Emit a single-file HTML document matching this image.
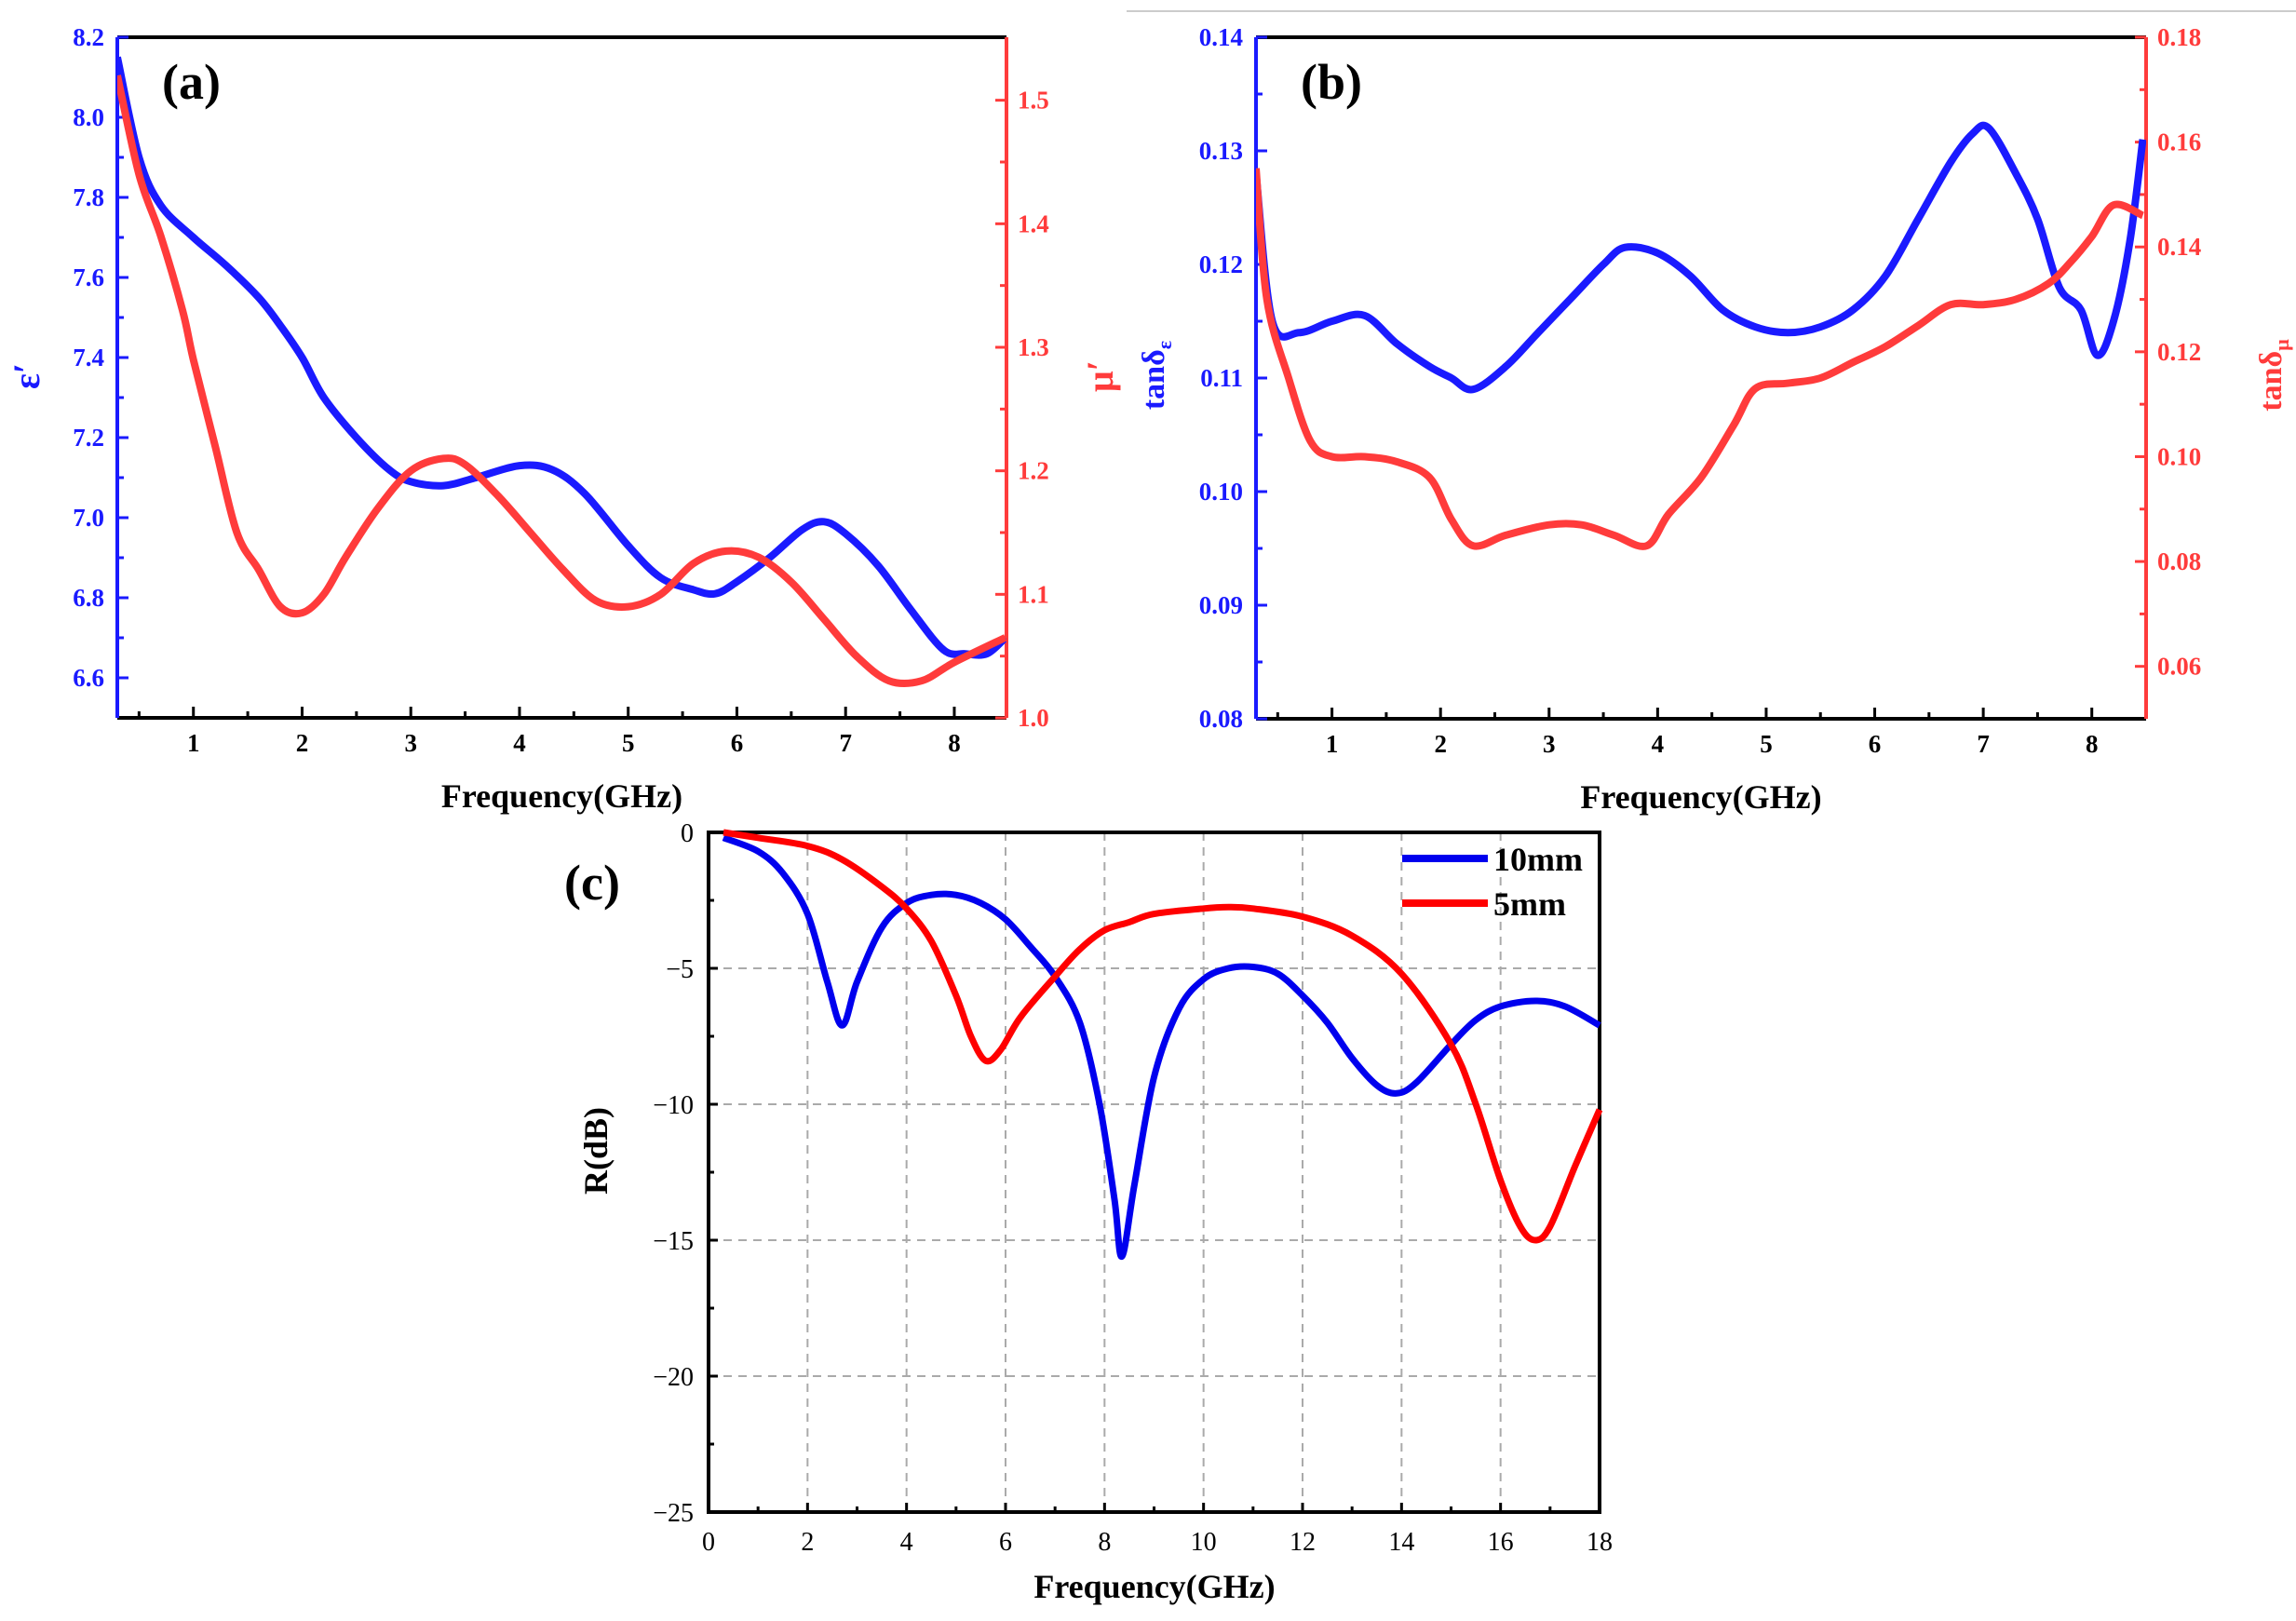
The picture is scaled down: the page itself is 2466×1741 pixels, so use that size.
<!DOCTYPE html>
<html><head><meta charset="utf-8"><style>
html,body{margin:0;padding:0;background:#fff}
svg{display:block}
text{font-family:"Liberation Serif",serif}
</style></head><body>
<svg id="fig" width="2466" height="1741" viewBox="0 0 2466 1741" xmlns="http://www.w3.org/2000/svg">
<rect x="0" y="0" width="2466" height="1741" fill="#fff"/>
<line x1="1210" y1="12" x2="2466" y2="12" stroke="#ccc" stroke-width="2"/>
</svg>
<script>
// ---------- Panel (a) data ----------
const aFreqE=[0.3,0.5,0.7,1.0,1.3,1.6,1.8,2.0,2.2,2.5,2.8,3.0,3.3,3.6,4.0,4.3,4.6,5.0,5.3,5.6,5.8,6.0,6.3,6.6,6.8,7.0,7.3,7.6,7.9,8.1,8.3,8.47];
const aEps=[8.15,7.9,7.78,7.7,7.63,7.55,7.48,7.4,7.3,7.2,7.12,7.09,7.08,7.1,7.13,7.12,7.06,6.93,6.85,6.82,6.81,6.84,6.9,6.97,6.99,6.96,6.88,6.77,6.67,6.66,6.66,6.7];
const aFreqM=[0.3,0.5,0.7,0.9,1.0,1.2,1.4,1.6,1.8,2.0,2.2,2.4,2.7,3.0,3.3,3.5,3.8,4.1,4.4,4.7,5.0,5.3,5.6,5.9,6.2,6.5,6.8,7.1,7.4,7.7,8.0,8.47];
const aMu=[1.52,1.44,1.39,1.33,1.29,1.22,1.15,1.12,1.09,1.085,1.1,1.13,1.17,1.2,1.21,1.205,1.18,1.15,1.12,1.095,1.09,1.1,1.125,1.135,1.13,1.11,1.08,1.05,1.03,1.03,1.045,1.065];
const aXTicks=[1,2,3,4,5,6,7,8];
const aLTicks=[6.6,6.8,7.0,7.2,7.4,7.6,7.8,8.0,8.2];
const aRTicks=[1.0,1.1,1.2,1.3,1.4,1.5];
// ---------- Panel (b) data ----------
const bFreqE=[0.3,0.45,0.7,1.0,1.3,1.6,1.9,2.1,2.3,2.6,2.9,3.2,3.5,3.7,4.0,4.3,4.6,4.9,5.2,5.5,5.8,6.1,6.4,6.7,6.9,7.05,7.3,7.5,7.7,7.9,8.05,8.2,8.35,8.47];
const bTanE=[0.128,0.115,0.114,0.115,0.1155,0.113,0.111,0.11,0.109,0.111,0.114,0.117,0.12,0.1215,0.121,0.119,0.116,0.1145,0.114,0.1145,0.116,0.119,0.124,0.129,0.1315,0.132,0.128,0.124,0.118,0.116,0.112,0.115,0.122,0.131];
const bFreqM=[0.3,0.4,0.6,0.8,1.0,1.3,1.6,1.9,2.1,2.3,2.6,3.0,3.3,3.6,3.9,4.1,4.4,4.7,4.9,5.2,5.5,5.8,6.1,6.4,6.7,7.0,7.3,7.6,7.8,8.0,8.2,8.47];
const bTanM=[0.155,0.13,0.115,0.103,0.1,0.1,0.099,0.096,0.088,0.083,0.085,0.087,0.087,0.085,0.083,0.089,0.096,0.106,0.113,0.114,0.115,0.118,0.121,0.125,0.129,0.129,0.13,0.133,0.137,0.142,0.148,0.146];
const bXTicks=[1,2,3,4,5,6,7,8];
const bLTicks=[0.08,0.09,0.10,0.11,0.12,0.13,0.14];
const bRTicks=[0.06,0.08,0.10,0.12,0.14,0.16,0.18];
// ---------- Panel (c) data ----------
const cFreq10=[0.3,1,1.5,2,2.4,2.7,3,3.5,4,4.5,5,5.5,6,6.5,7,7.5,7.9,8.2,8.35,8.6,9,9.5,10,10.5,11,11.5,12,12.5,13,13.5,13.9,14.3,15,15.5,16,16.7,17.3,18];
const cR10=[-0.2,-0.7,-1.5,-3,-5.5,-7.1,-5.5,-3.5,-2.6,-2.3,-2.3,-2.6,-3.2,-4.2,-5.3,-7,-10,-13.5,-15.6,-13,-9,-6.5,-5.4,-5,-4.95,-5.2,-6,-7,-8.3,-9.3,-9.6,-9.2,-7.8,-6.9,-6.4,-6.2,-6.4,-7.1];
const cFreq5=[0.3,1,2,2.7,3.5,4,4.5,5,5.3,5.6,5.9,6.3,7,7.5,8,8.5,9,10,10.5,11,12,13,14,15,15.5,16,16.4,16.7,17,17.5,18];
const cR5=[0,-0.2,-0.5,-1,-2,-2.8,-4,-6,-7.5,-8.4,-8,-6.8,-5.3,-4.3,-3.6,-3.3,-3,-2.8,-2.75,-2.8,-3.1,-3.8,-5.2,-7.8,-10,-12.8,-14.5,-15,-14.5,-12.3,-10.2];
const cXTicks=[0,2,4,6,8,10,12,14,16,18];
const cYTicks=[0,-5,-10,-15,-20,-25];

const NS="http://www.w3.org/2000/svg";
const svg=document.getElementById('fig');
function mk(tag,attrs,parent){const e=document.createElementNS(NS,tag);for(const k in attrs)e.setAttribute(k,attrs[k]);(parent||svg).appendChild(e);return e;}
function txt(s,attrs,parent){const e=mk('text',attrs,parent);e.textContent=s;return e;}
function lin(a0,a1,p0,p1){return v=>p0+(v-a0)/(a1-a0)*(p1-p0);}
function smooth(xs,ys,sx,sy){
  const P=xs.map((x,i)=>[sx(x),sy(ys[i])]);
  let d='M'+P[0][0].toFixed(1)+','+P[0][1].toFixed(1);
  for(let i=0;i<P.length-1;i++){
    const p0=P[Math.max(0,i-1)],p1=P[i],p2=P[i+1],p3=P[Math.min(P.length-1,i+2)];
    const c1=[p1[0]+(p2[0]-p0[0])/6,p1[1]+(p2[1]-p0[1])/6];
    const c2=[p2[0]-(p3[0]-p1[0])/6,p2[1]-(p3[1]-p1[1])/6];
    d+='C'+c1[0].toFixed(1)+','+c1[1].toFixed(1)+' '+c2[0].toFixed(1)+','+c2[1].toFixed(1)+' '+p2[0].toFixed(1)+','+p2[1].toFixed(1);
  }
  return d;
}
const BLUE='#1a1aff',RED='#ff3b3b';

function dual(o){
  const g=mk('g',{});
  
  
  const sx=lin(o.x0,o.x1,o.L,o.R), syl=lin(o.l0,o.l1,o.B,o.T), syr=lin(o.r0,o.r1,o.B,o.T);
  const top=mk('line',{x1:o.L,y1:o.T,x2:o.R,y2:o.T,stroke:'#000','stroke-width':4},g);
  
  const bot=mk('line',{x1:o.L,y1:o.B,x2:o.R,y2:o.B,stroke:'#000','stroke-width':4},g);
  
  const la=mk('line',{x1:o.L,y1:o.T,x2:o.L,y2:o.B,stroke:BLUE,'stroke-width':4},g);
  
  const ra=mk('line',{x1:o.R,y1:o.T,x2:o.R,y2:o.B,stroke:RED,'stroke-width':4},g);
  
  o.xt.forEach(v=>{
    const X=sx(v);
    mk('line',{x1:X,y1:o.B,x2:X,y2:o.B-12,stroke:'#000','stroke-width':3},g);
    const h=sx(v+0.5); if(h<o.R-3) mk('line',{x1:h,y1:o.B,x2:h,y2:o.B-7,stroke:'#000','stroke-width':3},g);
    const t=txt(String(v),{x:X,y:o.B+36,'text-anchor':'middle','font-size':27,'font-weight':'bold',fill:'#000'},g);
    
  });
  { const h=sx(o.xt[0]-0.5); if(h>o.L+3) mk('line',{x1:h,y1:o.B,x2:h,y2:o.B-7,stroke:'#000','stroke-width':3},g); }
  o.lt.forEach((v,i)=>{
    const Y=syl(v);
    mk('line',{x1:o.L,y1:Y,x2:o.L+12,y2:Y,stroke:BLUE,'stroke-width':3},g);
    if(i<o.lt.length-1){const m=syl(v+(o.lt[1]-o.lt[0])/2);mk('line',{x1:o.L,y1:m,x2:o.L+7,y2:m,stroke:BLUE,'stroke-width':3},g);}
    const t=txt(v.toFixed(o.ld),{x:o.L-14,y:Y+9,'text-anchor':'end','font-size':27,'font-weight':'bold',fill:BLUE},g);
    
  });
  o.rt.forEach((v,i)=>{
    const Y=syr(v);
    mk('line',{x1:o.R,y1:Y,x2:o.R-12,y2:Y,stroke:RED,'stroke-width':3},g);
    const m=syr(v+(o.rt[1]-o.rt[0])/2); if(m>o.T+3) mk('line',{x1:o.R,y1:m,x2:o.R-7,y2:m,stroke:RED,'stroke-width':3},g);
    const m2=syr(v-(o.rt[1]-o.rt[0])/2); if(i==0&&m2<o.B-3) mk('line',{x1:o.R,y1:m2,x2:o.R-7,y2:m2,stroke:RED,'stroke-width':3},g);
    const t=txt(v.toFixed(o.rd),{x:o.R+12,y:Y+9,'text-anchor':'start','font-size':27,'font-weight':'bold',fill:RED},g);
    
  });
  const clipId='clip'+o.name;
  const cp=mk('clipPath',{id:clipId},g); mk('rect',{x:o.L,y:o.T-10,width:o.R-o.L,height:o.B-o.T+10},cp);
  const p1=mk('path',{d:smooth(o.bx,o.by,sx,syl),fill:'none',stroke:BLUE,'stroke-width':8,'stroke-linejoin':'round','clip-path':'url(#'+clipId+')'},g);
  
  const p2=mk('path',{d:smooth(o.rx,o.ry,sx,syr),fill:'none',stroke:RED,'stroke-width':8,'stroke-linejoin':'round','clip-path':'url(#'+clipId+')'},g);
  
  const xt=txt('Frequency(GHz)',{x:(o.L+o.R)/2,y:o.B+96,'text-anchor':'middle','font-size':36,'font-weight':'bold',fill:'#000'},g);
  
  const pl=txt(o.label,{x:o.L+48,y:o.T+66,'font-size':54,'font-weight':'bold',fill:'#000'},g);
  
  return g;
}

dual({name:'panel-a',L:126,R:1081,T:40,B:771,x0:0.3,x1:8.48,l0:6.5,l1:8.2,r0:1.0,r1:1.551,
  xt:aXTicks,lt:aLTicks,rt:aRTicks,ld:1,rd:1,bx:aFreqE,by:aEps,rx:aFreqM,ry:aMu,label:'(a)'});
{ const t=txt('ε′',{x:0,y:0,'font-size':40,'font-weight':'bold',fill:BLUE,transform:'translate(42,404) rotate(-90)','text-anchor':'middle'});
  
  const u=txt('μ′',{x:0,y:0,'font-size':40,'font-weight':'bold',fill:RED,transform:'translate(1195,404) rotate(-90)','text-anchor':'middle'});
   }

dual({name:'panel-b',L:1349,R:2305,T:40,B:772,x0:0.3,x1:8.5,l0:0.08,l1:0.14,r0:0.05,r1:0.18,
  xt:bXTicks,lt:bLTicks,rt:bRTicks,ld:2,rd:2,bx:bFreqE,by:bTanE,rx:bFreqM,ry:bTanM,label:'(b)'});
{ const t=mk('text',{'font-size':34,'font-weight':'bold',fill:BLUE,transform:'translate(1250,403) rotate(-90)','text-anchor':'middle'});
  t.innerHTML='tanδ<tspan font-size="22" dy="8">ε</tspan>';
  
  const u=mk('text',{'font-size':34,'font-weight':'bold',fill:RED,transform:'translate(2450,403) rotate(-90)','text-anchor':'middle'});
  u.innerHTML='tanδ<tspan font-size="22" dy="8">μ</tspan>';
   }

// ---------- Panel (c) ----------
(function(){
  const L=761,R=1718,T=894,B=1624;
  const g=mk('g',{});
  
  
  const sx=lin(0,18,L,R), sy=lin(-25,0,B,T);
  cXTicks.forEach(v=>{
    const X=sx(v);
    if(v>0&&v<18) mk('line',{x1:X,y1:T,x2:X,y2:B,stroke:'#aaa','stroke-width':2,'stroke-dasharray':'9,7'},g);
    mk('line',{x1:X,y1:B,x2:X,y2:B-10,stroke:'#000','stroke-width':3},g);
    if(v<18){const m=sx(v+1);mk('line',{x1:m,y1:B,x2:m,y2:B-6,stroke:'#000','stroke-width':3},g);}
    const t=txt(String(v),{x:X,y:B+41,'text-anchor':'middle','font-size':28,fill:'#000'},g);
    
  });
  cYTicks.forEach(v=>{
    const Y=sy(v);
    if(v<0&&v>-25) mk('line',{x1:L,y1:Y,x2:R,y2:Y,stroke:'#aaa','stroke-width':2,'stroke-dasharray':'9,7'},g);
    mk('line',{x1:L,y1:Y,x2:L+10,y2:Y,stroke:'#000','stroke-width':3},g);
    if(v>-25){const m=sy(v-2.5);mk('line',{x1:L,y1:m,x2:L+6,y2:m,stroke:'#000','stroke-width':3},g);}
    const t=txt(v===0?'0':'−'+Math.abs(v),{x:L-16,y:Y+10,'text-anchor':'end','font-size':28,fill:'#000'},g);
    
  });
  const fr=mk('rect',{x:L,y:T,width:R-L,height:B-T,fill:'none',stroke:'#000','stroke-width':4},g);
  
  const p1=mk('path',{d:smooth(cFreq10,cR10,sx,sy),fill:'none',stroke:'#0000ee','stroke-width':7},g);
  
  const p2=mk('path',{d:smooth(cFreq5,cR5,sx,sy),fill:'none',stroke:'#ff0000','stroke-width':7},g);
  
  const l1=mk('line',{x1:1506,y1:922,x2:1598,y2:922,stroke:'#0000ee','stroke-width':8},g);
  
  const t1=txt('10mm',{x:1604,y:935,'font-size':36,'font-weight':'bold',fill:'#000'},g);
  
  const l2=mk('line',{x1:1506,y1:970,x2:1598,y2:970,stroke:'#ff0000','stroke-width':8},g);
  
  const t2=txt('5mm',{x:1604,y:983,'font-size':36,'font-weight':'bold',fill:'#000'},g);
  
  const xt=txt('Frequency(GHz)',{x:1240,y:1716,'text-anchor':'middle','font-size':36,'font-weight':'bold',fill:'#000'},g);
  
  const yt=txt('R(dB)',{x:0,y:0,'font-size':36,'font-weight':'bold',fill:'#000','text-anchor':'middle',transform:'translate(652,1236) rotate(-90)'},g);
  
  const pl=txt('(c)',{x:606,y:966,'font-size':54,'font-weight':'bold',fill:'#000'},g);
  
})();
</script>
</body></html>
